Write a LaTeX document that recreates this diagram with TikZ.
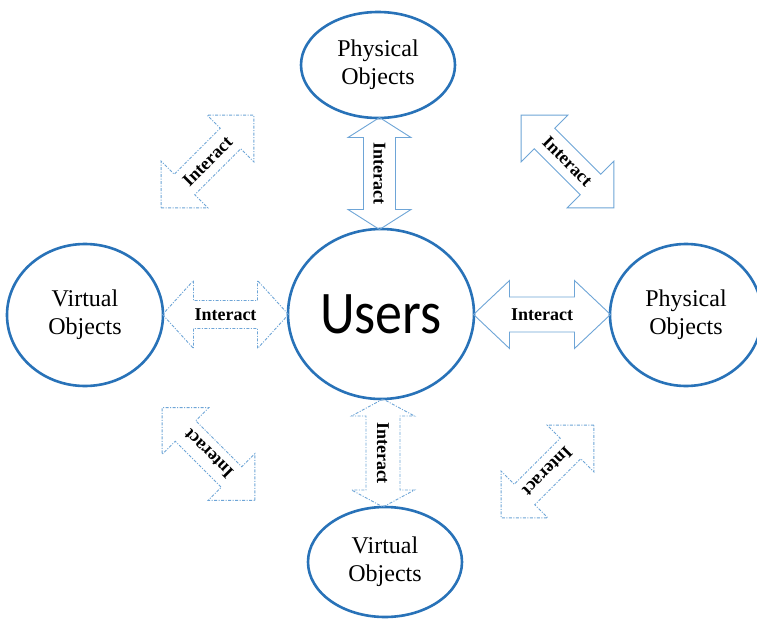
\documentclass[tikz,border=0pt]{standalone}
\usepackage{fontspec}
\setmainfont{Liberation Serif}
\newfontfamily\calibri{Carlito}
\usetikzlibrary{shapes.geometric,calc}
\definecolor{ellblue}{RGB}{40,114,184}
\definecolor{arrblue}{RGB}{110,165,215}
% \dblarr{options}{name}{centre}{angle}{half length}{shaft half width}{head half width}{head length}
\newcommand{\dblarr}[8]{%
  \begin{scope}[shift={(#3)}, rotate=#4]
    \draw[arrline, #1] (-#5,0) -- (-#5+#8,#7) -- (-#5+#8,#6) -- (#5-#8,#6) -- (#5-#8,#7)
      -- (#5,0) -- (#5-#8,-#7) -- (#5-#8,-#6) -- (-#5+#8,-#6) -- (-#5+#8,-#7) -- cycle;
  \end{scope}
  \node[lbl, rotate=#4] (#2) at (#3) {Interact};%
}
\begin{document}
\begin{tikzpicture}[x=1pt,y=-1pt,
  obj/.style={ellipse, draw=ellblue, line width=2.6pt, align=center,
    font=\fontsize{24}{28}\selectfont, inner sep=0pt},
  arrline/.style={draw=arrblue, line width=0.9pt, line join=miter},
  lbl/.style={font=\fontsize{18}{18}\selectfont\bfseries, inner sep=0pt},
  dashy/.style={dash pattern=on 3pt off 1.5pt on 1pt off 1.5pt},
  ]
\useasboundingbox (0,0) rectangle (757,623);
\fill[white] (0,0) rectangle (757,623);
% objects
\node[obj, minimum width=154pt, minimum height=106pt] (ptop) at (378,65) {Physical\\Objects};
\node[obj, minimum width=186pt, minimum height=170pt] (users) at (381,314)
  {\calibri\fontsize{54}{54}\selectfont\scalebox{1}[1.12]{Users}};
\node[obj, minimum width=156pt, minimum height=142pt] (vleft) at (85,315) {Virtual\\Objects};
\node[obj, minimum width=152pt, minimum height=142pt] (pright) at (686,315) {Physical\\Objects};
\node[obj, minimum width=154pt, minimum height=110pt] (vbot) at (385,562) {Virtual\\Objects};
% centres of the straight arrows between objects
\coordinate (ctop) at ($(ptop.south)!0.5!(users.north)$);
\coordinate (cbot) at ($(users.south)!0.5!(vbot.north)$);
\coordinate (cleft) at ($(vleft.east)!0.5!(users.west)$);
\coordinate (cright) at ($(users.east)!0.5!(pright.west)$);
% centres of the diagonal arrows
\coordinate (ctl) at (207.5,161.5);
\coordinate (ctr) at (567.5,161.5);
\coordinate (cbl) at (208.5,454);
\coordinate (cbr) at (547.5,471.5);
% arrows
\dblarr{}{atop}{ctop}{-90}{56}{16}{31.5}{20}
\dblarr{dashy}{abot}{cbot}{-90}{54}{17}{31.5}{17}
\dblarr{dashy}{aleft}{cleft}{0}{63}{14}{34}{31}
\dblarr{}{aright}{cright}{0}{68.5}{17.5}{34}{36}
\dblarr{dashy}{atl}{ctl}{45}{65.5}{14.5}{33}{33}
\dblarr{}{atr}{ctr}{-45}{65.5}{14.5}{33}{33}
\dblarr{dashy}{abl}{cbl}{135}{65.5}{14.5}{33}{33}
\dblarr{dashy}{abr}{cbr}{-135}{65.5}{14.5}{33}{33}
\end{tikzpicture}
\end{document}
